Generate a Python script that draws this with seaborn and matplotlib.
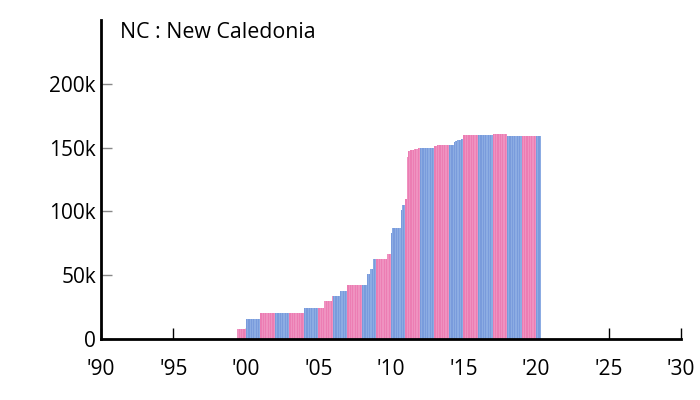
import matplotlib
matplotlib.use("Agg")
import matplotlib.pyplot as plt
import seaborn as sns
import pandas as pd
import numpy as np

# ---- data (thousands, monthly) ----
first_year = 1999
first_month = 6
v1999 = [8, 8, 8, 8, 8, 8, 8]
v2000 = [16, 16, 16, 16, 16, 16, 16, 16, 16, 16, 16, 16]
v2001 = [20, 20, 20, 20, 20, 20, 20, 20, 20, 20, 20, 20]
v2002 = [20, 20, 20, 20, 20, 20, 20, 20, 20, 20, 20, 20]
v2003 = [20, 20, 20, 20, 20, 20, 20, 20, 20, 20, 20, 20]
v2004 = [24, 24, 24, 24, 24, 24, 24, 24, 24, 24, 24, 24]
v2005 = [24, 24, 24, 24, 24, 30, 30, 30, 30, 30, 30, 34]
v2006 = [34, 34, 34, 34, 34, 34, 38, 38, 38, 38, 38, 38]
v2007 = [42, 42, 42, 42, 42, 42, 42, 42, 42, 42, 42, 42]
v2008 = [42, 42, 42, 42, 51, 51, 51, 55, 55, 63, 63, 63]
v2009 = [63, 63, 63, 63, 63, 63, 63, 63, 63, 67, 67, 67]
v2010 = [83, 87, 87, 87, 87, 87, 87, 87, 101, 105, 105, 105]
v2011 = [110, 143, 147, 147, 148, 148, 148, 149, 149, 149, 150, 150]
v2012 = [150, 150, 150, 150, 150, 150, 150, 150, 150, 150, 150, 150]
v2013 = [151, 151, 152, 152, 152, 152, 152, 152, 152, 152, 152, 152]
v2014 = [152, 152, 152, 152, 154, 155, 155, 156, 156, 156, 157, 157]
v2015 = [160, 160, 160, 160, 160, 160, 160, 160, 160, 160, 160, 160]
v2016 = [160, 160, 160, 160, 160, 160, 160, 160, 160, 160, 160, 160]
v2017 = [161, 161, 161, 161, 161, 161, 161, 161, 161, 161, 161, 161]
v2018 = [159, 159, 159, 159, 159, 159, 159, 159, 159, 159, 159, 159]
v2019 = [159, 159, 159, 159, 159, 159, 159, 159, 159, 159, 159, 159]
v2020 = [159, 159, 159, 159]

series = [v1999, v2000, v2001, v2002, v2003, v2004, v2005, v2006, v2007,
          v2008, v2009, v2010, v2011, v2012, v2013, v2014, v2015, v2016,
          v2017, v2018, v2019, v2020]

title = "NC : New Caledonia"
xtick_years = [1990, 1995, 2000, 2005, 2010, 2015, 2020, 2025, 2030]
xtick_labels = ["'90", "'95", "'00", "'05", "'10", "'15", "'20", "'25", "'30"]
ytick_vals = [0, 50, 100, 150, 200]
ytick_labels = ["0", "50k", "100k", "150k", "200k"]

rows = []
for i, vals in enumerate(series):
    yr = first_year + i
    m0 = first_month if i == 0 else 1
    for j, v in enumerate(vals):
        m = m0 + j
        t = yr + (m - 1) / 12 + 1 / 24
        grp = ("even" if yr % 2 == 0 else "odd") + ("A" if m % 2 else "B")
        rows.append({"t": t, "v": v * 1000, "grp": grp})
df = pd.DataFrame(rows)

palette = {"evenA": "#6896ec", "evenB": "#7ea8f1",
           "oddA": "#ff6ab2", "oddB": "#ff82c0"}

sns.set_theme(style="white")
plt.rcParams["font.family"] = ["Open Sans", "DejaVu Sans"]

fig = plt.figure(figsize=(7, 4), dpi=100)
ax = fig.add_axes([0.144, 0.1525, 0.829, 0.7975])

sns.barplot(data=df, x="t", y="v", hue="grp", palette=palette,
            native_scale=True, width=1.0, dodge=False, legend=False,
            errorbar=None, linewidth=0, ax=ax)

ax.set_xlim(1990, 2030)
ax.set_ylim(0, 250000)
ax.set_xticks(xtick_years)
ax.set_xticklabels(xtick_labels, fontsize=15)
ax.set_yticks([v * 1000 for v in ytick_vals])
ax.set_yticklabels(ytick_labels, fontsize=15)
ax.set_xlabel("")
ax.set_ylabel("")

for s in ["top", "right"]:
    ax.spines[s].set_visible(False)
for s in ["left", "bottom"]:
    ax.spines[s].set_color("black")
    ax.spines[s].set_linewidth(2)

ax.tick_params(axis="x", direction="in", length=8, width=1, color="black",
               pad=14.5, labelcolor="black", bottom=True)
ax.tick_params(axis="y", direction="in", length=8, width=1, color="#888888",
               pad=3.5, labelcolor="black", left=True)

ax.text(0.033, 0.96, title, transform=ax.transAxes, ha="left", va="center",
        fontsize=15.4, color="black")

fig.savefig("out.png", dpi=100)
